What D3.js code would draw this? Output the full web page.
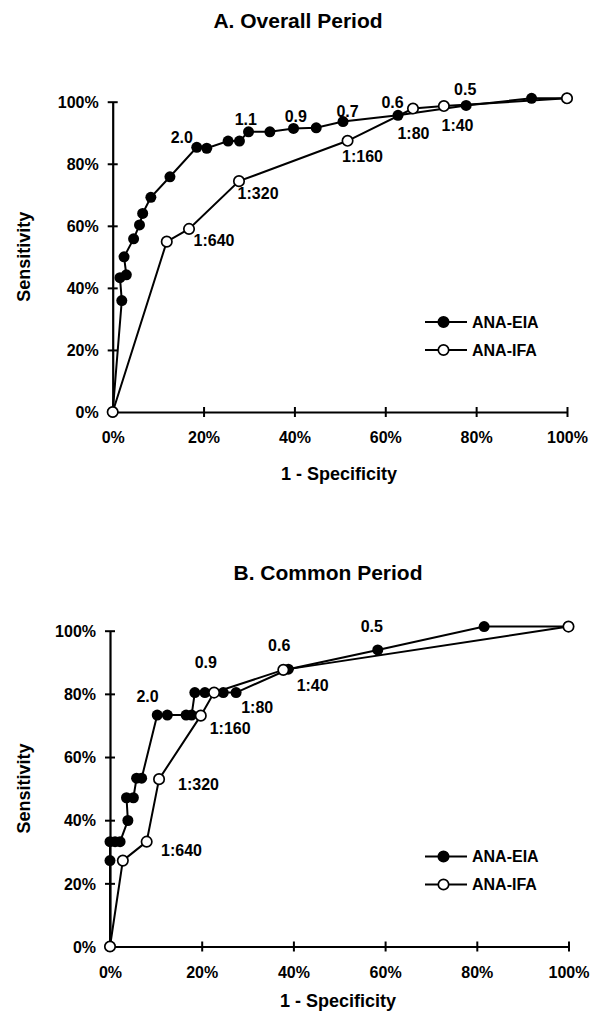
<!DOCTYPE html>
<html>
<head>
<meta charset="utf-8">
<script src="https://cdn.jsdelivr.net/npm/d3@7"></script>
<style>
  body { margin: 0; background: #fff; }
  svg { display: block; font-family: "Liberation Sans", Arial, sans-serif; font-weight: bold; }
</style>
</head>
<body>
<svg id="roc" width="590" height="1014"></svg>
<script>
// tick values (percent)
const xTicks = [0, 20, 40, 60, 80, 100];
const yTicks = [0, 20, 40, 60, 80, 100];

// A. Overall Period -- ANA-EIA (filled)
const overallEiaX = [0, 2.0, 1.6, 3.0, 2.5, 4.6, 5.9, 6.6, 8.4, 12.6, 18.5, 20.7, 25.4, 27.9, 29.9, 34.6, 39.8, 44.8, 50.7, 62.8, 77.8, 92.2, 100];
const overallEiaY = [0, 35.9, 43.3, 44.2, 50.0, 55.8, 60.3, 64.0, 69.2, 75.8, 85.3, 85.0, 87.3, 87.3, 90.3, 90.3, 91.4, 91.6, 93.6, 95.6, 98.8, 101.1, 101.1];
// A. Overall Period -- ANA-IFA (open)
const overallIfaX = [0, 11.9, 16.8, 27.8, 51.7, 66.1, 72.9, 100];
const overallIfaY = [0, 54.9, 59.0, 74.4, 87.4, 97.8, 98.6, 101.1];
// threshold labels
const overallLabels = ["2.0", "1.1", "0.9", "0.7", "0.6", "0.5", "1:640", "1:320", "1:160", "1:80", "1:40"];
const overallLabelX = [15.2, 29.3, 40.3, 51.7, 61.6, 77.6, 22.3, 32.0, 55.0, 66.2, 75.9];
const overallLabelY = [86.8, 92.5, 93.5, 95.2, 98.0, 102.2, 53.5, 68.6, 80.7, 88.0, 90.7];

// B. Common Period -- ANA-EIA (filled)
const commonEiaX = [0, 0, 0, 1.1, 2.2, 3.9, 3.6, 5.1, 5.8, 6.9, 10.3, 12.5, 16.6, 17.8, 18.5, 20.7, 24.7, 27.5, 38.9, 58.4, 81.6, 100];
const commonEiaY = [0, 27.2, 33.2, 33.2, 33.2, 39.9, 47.1, 47.1, 53.3, 53.3, 73.3, 73.3, 73.3, 73.3, 80.4, 80.4, 80.4, 80.4, 87.8, 93.9, 101.3, 101.3];
// B. Common Period -- ANA-IFA (open)
const commonIfaX = [0, 2.8, 8.0, 10.7, 19.8, 22.7, 37.8, 100];
const commonIfaY = [0, 27.2, 33.2, 53.0, 73.1, 80.4, 87.6, 101.3];
const commonLabels = ["2.0", "0.9", "0.6", "0.5", "1:640", "1:320", "1:160", "1:80", "1:40"];
const commonLabelX = [8.2, 20.9, 36.9, 57.1, 15.6, 19.3, 26.2, 32.1, 44.2];
const commonLabelY = [77.5, 88.1, 93.7, 99.7, 28.7, 49.6, 67.3, 74.0, 80.9];

const seriesNames = ["ANA-EIA", "ANA-IFA"];

const svg = d3.select("#roc");

function zip(xs, ys) {
  return xs.map((x, i) => ({ x: x, y: ys[i] }));
}

function drawPanel(p) {
  const x = d3.scaleLinear().domain([0, 100]).range([p.left, p.right]);
  const y = d3.scaleLinear().domain([0, 100]).range([p.bottom, p.top]);
  const g = svg.append("g");

  // title
  g.append("text")
    .attr("x", p.titleX)
    .attr("y", p.titleY)
    .attr("text-anchor", "middle")
    .style("font-size", "21px")
    .text(p.title);

  // x axis, ticks cross the line
  const xAxis = g.append("g")
    .attr("transform", "translate(0," + p.bottom + ")")
    .call(d3.axisBottom(x).tickValues(xTicks).tickSizeOuter(0).tickFormat(d => d + "%"));
  xAxis.select(".domain").attr("stroke-width", 2.2);
  xAxis.selectAll(".tick line").attr("y1", -5).attr("y2", 5).attr("stroke-width", 2);
  xAxis.selectAll(".tick text")
    .attr("y", 31).attr("dy", 0)
    .style("font-size", "16px").style("font-family", "Liberation Sans, Arial, sans-serif").style("font-weight", "bold")
    .attr("fill", "#000");

  const yAxis = g.append("g")
    .attr("transform", "translate(" + p.left + ",0)")
    .call(d3.axisLeft(y).tickValues(yTicks).tickSizeOuter(0).tickFormat(d => d + "%"));
  yAxis.select(".domain").attr("stroke-width", 2.2);
  yAxis.selectAll(".tick line").attr("x1", -5).attr("x2", 5).attr("stroke-width", 2);
  yAxis.selectAll(".tick text")
    .attr("x", -14).attr("dy", "0.36em")
    .style("font-size", "16px").style("font-family", "Liberation Sans, Arial, sans-serif").style("font-weight", "bold")
    .attr("fill", "#000");

  // axis titles
  g.append("text")
    .attr("x", p.xLabelX)
    .attr("y", p.xLabelY)
    .attr("text-anchor", "middle")
    .style("font-size", "18px")
    .text("1 - Specificity");

  g.append("text")
    .attr("transform", "translate(30," + (p.top + p.bottom) / 2 + ") rotate(-90)")
    .attr("text-anchor", "middle")
    .style("font-size", "18px")
    .text("Sensitivity");

  const line = d3.line().x(d => x(d.x)).y(d => y(d.y));
  const eia = zip(p.eiaX, p.eiaY);
  const ifa = zip(p.ifaX, p.ifaY);

  g.append("path").datum(eia)
    .attr("d", line).attr("fill", "none").attr("stroke", "#000").attr("stroke-width", 2);
  g.append("path").datum(ifa)
    .attr("d", line).attr("fill", "none").attr("stroke", "#000").attr("stroke-width", 2);

  g.selectAll(".eia").data(eia).enter().append("circle")
    .attr("class", "eia")
    .attr("cx", d => x(d.x)).attr("cy", d => y(d.y))
    .attr("r", 5.5).attr("fill", "#000");

  g.selectAll(".ifa").data(ifa).enter().append("circle")
    .attr("class", "ifa")
    .attr("cx", d => x(d.x)).attr("cy", d => y(d.y))
    .attr("r", 5.2).attr("fill", "#fff").attr("stroke", "#000").attr("stroke-width", 1.7);

  // threshold labels
  g.selectAll(".thr").data(p.labels).enter().append("text")
    .attr("class", "thr")
    .attr("x", (d, i) => x(p.labelX[i]))
    .attr("y", (d, i) => y(p.labelY[i]))
    .attr("text-anchor", "middle")
    .style("font-size", "16px")
    .text(d => d);

  // legend
  const lg = g.selectAll(".legend").data(seriesNames).enter().append("g")
    .attr("class", "legend")
    .attr("transform", (d, i) => "translate(425," + (p.bottom - 90 + i * 28) + ")");
  lg.append("line").attr("x1", 0).attr("x2", 42).attr("stroke", "#000").attr("stroke-width", 2);
  lg.append("circle").attr("cx", 18.5).attr("r", 5.2)
    .attr("fill", (d, i) => i === 0 ? "#000" : "#fff")
    .attr("stroke", "#000").attr("stroke-width", 1.7);
  lg.append("text").attr("x", 47).attr("dy", "0.36em")
    .style("font-size", "16px")
    .text(d => d);
}

drawPanel({
  title: "A. Overall Period", titleX: 298, titleY: 28,
  left: 112.7, right: 567, top: 101.7, bottom: 412, xLabelX: 339, xLabelY: 480,
  eiaX: overallEiaX, eiaY: overallEiaY, ifaX: overallIfaX, ifaY: overallIfaY,
  labels: overallLabels, labelX: overallLabelX, labelY: overallLabelY
});

drawPanel({
  title: "B. Common Period", titleX: 328, titleY: 580,
  left: 110, right: 568.5, top: 630.7, bottom: 946.5, xLabelX: 338, xLabelY: 1007,
  eiaX: commonEiaX, eiaY: commonEiaY, ifaX: commonIfaX, ifaY: commonIfaY,
  labels: commonLabels, labelX: commonLabelX, labelY: commonLabelY
});
</script>
</body>
</html>
